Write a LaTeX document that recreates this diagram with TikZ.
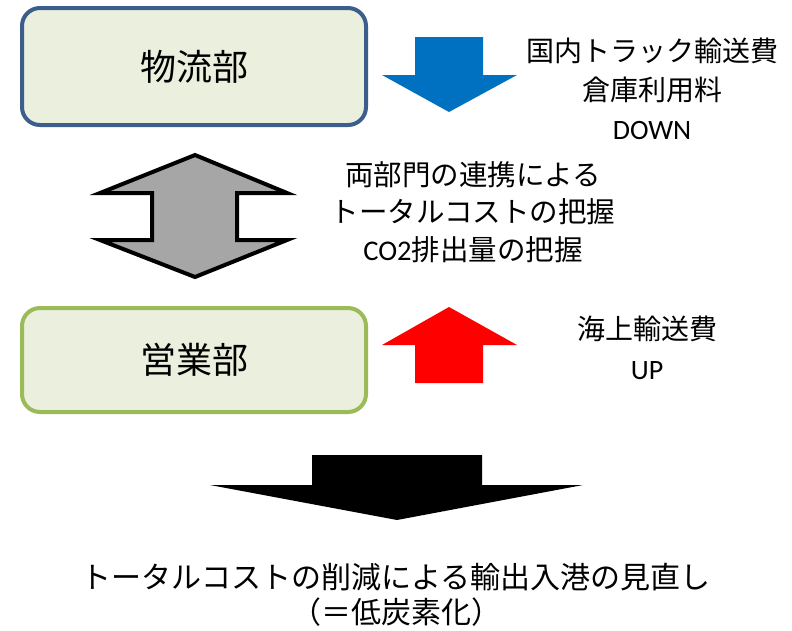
\documentclass[tikz,border=0pt]{standalone}
\usepackage{fontspec}
\setmainfont{Noto Sans CJK JP}
\newfontfamily\latin{Carlito}
\definecolor{boxfill}{HTML}{EBEFDE}
\definecolor{blueline}{HTML}{3B5E8C}
\definecolor{greenline}{HTML}{9BBB59}
\definecolor{downblue}{HTML}{0070C0}
\definecolor{upred}{HTML}{FF0000}
\definecolor{midgray}{HTML}{A6A6A6}
\tikzset{
  bubox/.style={rounded corners=18pt, line width=4pt, fill=boxfill, minimum width=344pt,
    font=\fontsize{36}{40}\selectfont},
  memo/.style={align=center, font=\fontsize{28}{39}\selectfont}
}
\begin{document}
\begin{tikzpicture}[x=1pt,y=-1pt]
  \useasboundingbox (0,0) rectangle (792,630);
  \node[bubox, draw=blueline, minimum height=117pt] (butsuryu) at (194,66.5) {物流部}; %物流部
  \node[bubox, draw=greenline, minimum height=104pt] (eigyo) at (194,360) {営業部}; %営業部

  \fill[downblue] (415,37) -- (483,37) -- (483,75) -- (517,75) -- (449,112) -- (382,75) -- (415,75) -- cycle; %青の下矢印
  \fill[upred] (449,307) -- (517,345) -- (483,345) -- (483,383) -- (415,383) -- (415,345) -- (382,345) -- cycle; %赤の上矢印
  \draw[line width=4pt, fill=midgray] (195,155) -- (287,193) -- (237,193) -- (237,240) -- (287,240) -- (195,277)
    -- (100,240) -- (152,240) -- (152,193) -- (100,193) -- cycle; %灰色の両矢印
  \fill (312,455) -- (482,455) -- (482,485) -- (583,485) -- (397,520) -- (210,485) -- (312,485) -- cycle; %下の黒矢印

  \node[memo] (down) at (652,89) {国内トラック輸送費\\倉庫利用料\\{\latin DOWN}};
  \node[memo, font=\fontsize{28.5}{37.5}\selectfont] (renkei) at (473,212) {両部門の連携による\\トータルコストの把握\\{\latin CO2}排出量の把握};
  \node[memo, font=\fontsize{28}{40}\selectfont] (up) at (647,348) {海上輸送費\\{\latin UP}};
  \node[memo, font=\fontsize{30}{35}\selectfont] (minaoshi) at (396,595) {トータルコストの削減による輸出入港の見直し\\（＝低炭素化）};
\end{tikzpicture}
\end{document}
